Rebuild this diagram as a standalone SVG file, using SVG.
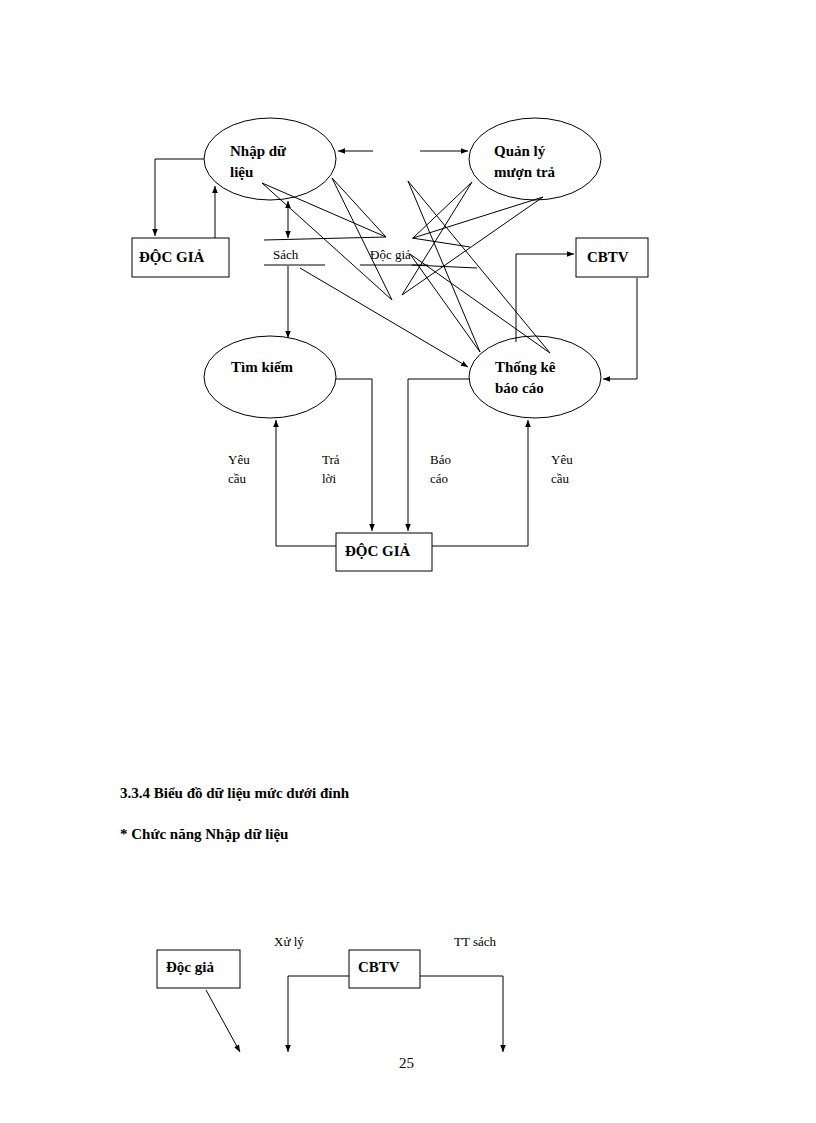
<svg xmlns="http://www.w3.org/2000/svg" width="816" height="1123" viewBox="0 0 816 1123">
<defs><marker id="a" viewBox="0 0 10 10" refX="10" refY="5" markerWidth="7" markerHeight="7" orient="auto-start-reverse"><path d="M0,1 L10,5 L0,9 z" fill="#000"/></marker></defs>
<style>
.s{fill:#fff;stroke:#000;stroke-width:1}
.l{fill:none;stroke:#000;stroke-width:1}
.t{font-family:"Liberation Serif",serif;font-size:15px;fill:#000}
.b{font-family:"Liberation Serif",serif;font-size:15px;font-weight:bold;fill:#000}
.m{font-family:"Liberation Serif",serif;font-size:13px;fill:#000}
</style>
<rect width="816" height="1123" fill="#fff"/>
<g id="nhap"><ellipse class="s" cx="270" cy="159" rx="66" ry="41"/><text class="b" x="230" y="156">Nhập  dữ</text><text class="b" x="230" y="177">liệu</text></g>
<g id="quanly"><ellipse class="s" cx="535" cy="159" rx="66" ry="41"/><text class="b" x="494" y="156">Quản  lý</text><text class="b" x="494" y="177">mượn  trả</text></g>
<g id="docgia1"><rect class="s" x="132" y="238" width="97" height="39"/><text class="b" x="139" y="262">ĐỘC GIẢ</text></g>
<g id="cbtv"><rect class="s" x="576" y="238" width="72" height="39"/><text class="b" x="587" y="262">CBTV</text></g>
<g id="store"><line class="l" x1="264" y1="240" x2="386" y2="237"/><line class="l" x1="264" y1="265" x2="325" y2="265"/><line class="l" x1="360" y1="265" x2="428" y2="265"/><text class="m" x="273" y="259">Sách</text><text class="m" x="370" y="259">Độc giả</text></g>
<g id="timkiem"><ellipse class="s" cx="270" cy="377" rx="66" ry="41"/><text class="b" x="231" y="372">Tìm kiếm</text></g>
<g id="thongke"><ellipse class="s" cx="535" cy="377" rx="66" ry="41"/><text class="b" x="495" y="372">Thống kê</text><text class="b" x="495" y="393">báo cáo</text></g>
<g id="docgia2"><rect class="s" x="336" y="533" width="96" height="38"/><text class="b" x="345" y="556">ĐỘC GIẢ</text></g>
<g id="connectors">
<path class="l" d="M204,159 H155 V236" marker-end="url(#a)"/>
<path class="l" d="M215,238 V186" marker-end="url(#a)"/>
<line class="l" x1="373" y1="151" x2="338" y2="151" marker-end="url(#a)"/>
<line class="l" x1="420" y1="151" x2="468" y2="151" marker-end="url(#a)"/>
<line class="l" x1="288" y1="201" x2="288" y2="238" marker-start="url(#a)" marker-end="url(#a)"/>
<line class="l" x1="288" y1="266" x2="288" y2="338" marker-end="url(#a)"/>
<line class="l" x1="300" y1="268" x2="468" y2="367" marker-end="url(#a)"/>
<line class="l" x1="262" y1="183" x2="386" y2="237"/>
<line class="l" x1="262" y1="183" x2="392" y2="300"/>
<line class="l" x1="332" y1="178" x2="386" y2="237"/>
<line class="l" x1="332" y1="178" x2="392" y2="300"/>
<line class="l" x1="472" y1="182" x2="413" y2="238"/>
<line class="l" x1="472" y1="182" x2="402" y2="295"/>
<line class="l" x1="543" y1="197" x2="413" y2="238"/>
<line class="l" x1="543" y1="197" x2="402" y2="295"/>
<line class="l" x1="410" y1="254" x2="480" y2="352"/>
<line class="l" x1="410" y1="254" x2="550" y2="353"/>
<line class="l" x1="408" y1="181" x2="480" y2="352"/>
<line class="l" x1="408" y1="181" x2="550" y2="353"/>
<line class="l" x1="412" y1="238" x2="470" y2="247"/>
<line class="l" x1="412" y1="265" x2="477" y2="268"/>
<path class="l" d="M516,342 V254 H574" marker-end="url(#a)"/>
<path class="l" d="M637,278 V379 H603" marker-end="url(#a)"/>
<path class="l" d="M336,379 H372 V531" marker-end="url(#a)"/>
<path class="l" d="M470,379 H408 V531" marker-end="url(#a)"/>
<path class="l" d="M336,546 H276 V420" marker-end="url(#a)"/>
<path class="l" d="M432,546 H528 V420" marker-end="url(#a)"/>
</g>
<text class="m" x="228" y="464">Yêu</text><text class="m" x="228" y="483">cầu</text>
<text class="m" x="322" y="464">Trả</text><text class="m" x="322" y="483">lời</text>
<text class="m" x="430" y="464">Báo</text><text class="m" x="430" y="483">cáo</text>
<text class="m" x="551" y="464">Yêu</text><text class="m" x="551" y="483">cầu</text>
<text class="b" x="120" y="798">3.3.4 Biểu đồ dữ liệu mức dưới đỉnh</text>
<text class="b" x="120" y="839">* Chức năng Nhập dữ liệu</text>
<g id="docgia3"><rect class="s" x="157" y="950" width="83" height="38"/><text class="b" x="166" y="972">Độc giả</text></g>
<g id="cbtv2"><rect class="s" x="349" y="950" width="71" height="38"/><text class="b" x="358" y="972">CBTV</text></g>
<text class="m" x="274" y="946">Xử lý</text>
<text class="m" x="454" y="946">TT sách</text>
<g id="connectors2">
<line class="l" x1="206" y1="990" x2="240" y2="1052" marker-end="url(#a)"/>
<path class="l" d="M349,976 H288 V1052" marker-end="url(#a)"/>
<path class="l" d="M420,976 H503 V1052" marker-end="url(#a)"/>
</g>
<text class="t" x="399" y="1068">25</text>
</svg>
